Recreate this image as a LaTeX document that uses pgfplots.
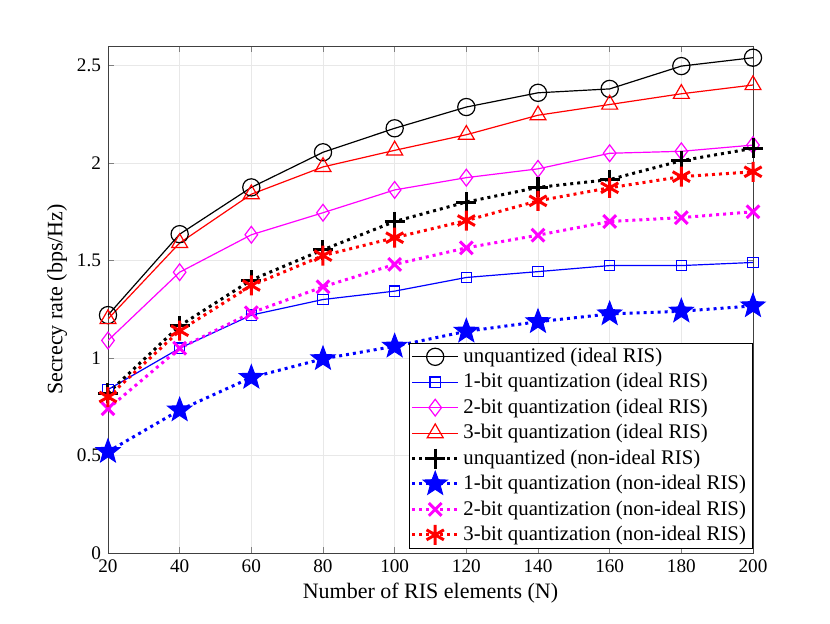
\documentclass[border=0pt]{standalone}
\usepackage{fontspec}
\setmainfont{Liberation Serif}
\usepackage{pgfplots}
\pgfplotsset{compat=1.18}
\usetikzlibrary{plotmarks}
\definecolor{mblue}{rgb}{0,0,1}
\definecolor{mred}{rgb}{1,0,0}
\definecolor{mmag}{rgb}{1,0,1}
\pgfdeclareplotmark{fstar}{%
  \pgfpathmoveto{\pgfpointpolar{90}{\pgfplotmarksize}}%
  \pgfpathlineto{\pgfpointpolar{126}{0.42\pgfplotmarksize}}%
  \pgfpathlineto{\pgfpointpolar{162}{\pgfplotmarksize}}%
  \pgfpathlineto{\pgfpointpolar{198}{0.42\pgfplotmarksize}}%
  \pgfpathlineto{\pgfpointpolar{234}{\pgfplotmarksize}}%
  \pgfpathlineto{\pgfpointpolar{270}{0.42\pgfplotmarksize}}%
  \pgfpathlineto{\pgfpointpolar{306}{\pgfplotmarksize}}%
  \pgfpathlineto{\pgfpointpolar{342}{0.42\pgfplotmarksize}}%
  \pgfpathlineto{\pgfpointpolar{18}{\pgfplotmarksize}}%
  \pgfpathlineto{\pgfpointpolar{54}{0.42\pgfplotmarksize}}%
  \pgfpathclose
  \pgfusepathqfillstroke
}
\begin{document}
\begin{tikzpicture}
\useasboundingbox (-54pt,-35pt) rectangle (361pt,276.5pt);
\begin{axis}[
  at={(0,0)}, anchor=south west,
  scale only axis, width=322.5pt, height=253.5pt,
  xmin=20, xmax=200, ymin=0, ymax=2.6,
  xtick={20,40,...,200}, ytick={0,0.5,1,1.5,2,2.5},
  yticklabels={0,0.5,1,1.5,2,2.5},
  /pgf/number format/assume math mode=true,
  tick label style={font=\fontsize{9.6pt}{11pt}\selectfont},
  label style={font=\fontsize{11pt}{13pt}\selectfont},
  xlabel={Number of RIS elements (N)},
  ylabel={Secrecy rate (bps/Hz)},
  xlabel style={yshift=2pt},
  ylabel style={yshift=-2pt},
  grid=major, major grid style={gray!18, line width=0.4pt},
  tick align=inside, major tick length=3pt,
  axis line style={black!75, line width=0.4pt},
  legend style={at={(0.999,0.008)}, anchor=south east, font=\fontsize{10.4pt}{12pt}\selectfont,
    draw=black, line width=0.4pt, row sep=0pt, inner xsep=1pt, inner ysep=0.5pt},
  legend cell align=left,
  legend image code/.code={\draw[mark repeat=2,mark phase=2] plot coordinates {(0cm,0cm)(0.4cm,0cm)(0.8cm,0cm)};},
  every axis plot/.append style={line width=0.6pt},
]
\addplot[black, mark=o, mark size=4.3pt, mark options={solid,line width=0.6pt}] coordinates {
(20,1.22)(40,1.635)(60,1.875)(80,2.055)(100,2.178)(120,2.287)(140,2.36)(160,2.38)(180,2.497)(200,2.54)};
\addlegendentry{unquantized (ideal RIS)}
\addplot[mblue, mark=square, mark size=2.6pt, mark options={solid,line width=0.6pt}] coordinates {
(20,0.838)(40,1.05)(60,1.22)(80,1.30)(100,1.343)(120,1.413)(140,1.443)(160,1.474)(180,1.474)(200,1.49)};
\addlegendentry{1-bit quantization (ideal RIS)}
\addplot[mmag, mark=diamond, mark size=4.2pt, mark options={solid,line width=0.6pt}] coordinates {
(20,1.09)(40,1.44)(60,1.632)(80,1.745)(100,1.862)(120,1.925)(140,1.97)(160,2.05)(180,2.06)(200,2.092)};
\addlegendentry{2-bit quantization (ideal RIS)}
\addplot[mred, mark=triangle, mark size=4.6pt, mark options={solid,line width=0.6pt}] coordinates {
(20,1.20)(40,1.59)(60,1.84)(80,1.98)(100,2.065)(120,2.145)(140,2.245)(160,2.30)(180,2.355)(200,2.40)};
\addlegendentry{3-bit quantization (ideal RIS)}
\addplot[black, line width=1.5pt, dash pattern=on 1.5pt off 2pt, mark=+, mark size=5pt, mark options={solid,line width=1.5pt}] coordinates {
(20,0.82)(40,1.165)(60,1.40)(80,1.555)(100,1.70)(120,1.80)(140,1.875)(160,1.915)(180,2.012)(200,2.075)};
\addlegendentry{unquantized (non-ideal RIS)}
\addplot[mblue, line width=1.5pt, dash pattern=on 1.5pt off 2pt, mark=fstar, mark size=6.3pt,
  mark options={solid, line width=0.5pt, fill=mblue, draw=mblue}] coordinates {
(20,0.52)(40,0.733)(60,0.90)(80,0.996)(100,1.06)(120,1.137)(140,1.186)(160,1.226)(180,1.24)(200,1.267)};
\addlegendentry{1-bit quantization (non-ideal RIS)}
\addplot[mmag, line width=1.5pt, dash pattern=on 1.5pt off 2pt, mark=x, mark size=4.5pt, mark options={solid,line width=1.5pt}] coordinates {
(20,0.74)(40,1.05)(60,1.232)(80,1.365)(100,1.48)(120,1.565)(140,1.63)(160,1.70)(180,1.72)(200,1.75)};
\addlegendentry{2-bit quantization (non-ideal RIS)}
\addplot[mred, line width=1.5pt, dash pattern=on 1.5pt off 2pt, mark=asterisk, mark size=5pt, mark options={solid,line width=1.5pt}] coordinates {
(20,0.80)(40,1.14)(60,1.372)(80,1.525)(100,1.617)(120,1.705)(140,1.806)(160,1.873)(180,1.93)(200,1.955)};
\addlegendentry{3-bit quantization (non-ideal RIS)}
\end{axis}
\end{tikzpicture}
\end{document}
